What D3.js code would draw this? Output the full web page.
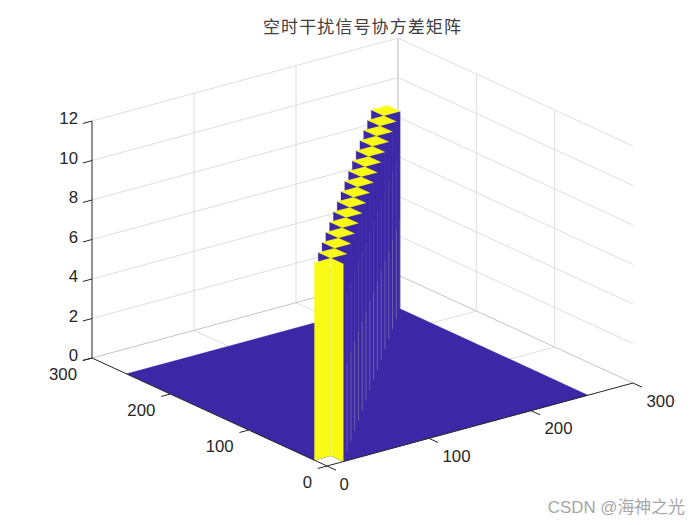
<!DOCTYPE html>
<html><head><meta charset="utf-8">
<script src="https://cdn.jsdelivr.net/npm/d3@7"></script>
<style>html,body{margin:0;padding:0;background:#fff}svg{display:block}</style>
</head><body><svg id="c" width="700" height="525"></svg>
<script>
const titleText = "空时干扰信号协方差矩阵";
const watermark = "CSDN @海神之光";
const xTicks = [0,100,200,300];
const yTicks = [0,100,200,300];
const zTicks = [0,2,4,6,8,10,12];
const blockEdges = [0,16,32,48,64,80,96,112,128,144,160,176,192,208,224,240];
const blockSize = [16];
const matrixSize = [256];
const blockHeights = [10,10,10,10,10,10,10,10,10,10,10,10,10,10,10,10];

const LOW = "#3c27a7", HIGH = "#f9fb15", AX = "#262626", GRID = "#dedede";

// oblique view: each data axis maps to a screen-x and a screen-y scale
const xPx = d3.scaleLinear().domain([0,300]).range([327,633]);
const xPy = d3.scaleLinear().domain([0,300]).range([466,383]);
const yPx = d3.scaleLinear().domain([0,300]).range([0,-235]);
const yPy = d3.scaleLinear().domain([0,300]).range([0,-108]);
const zPy = d3.scaleLinear().domain([0,12]).range([0,-237]);
const P = (x,y,z) => [xPx(x)+yPx(y), xPy(x)+yPy(y)+zPy(z)];

const svg = d3.select("#c");
const line = d3.line();
const poly = pts => line(pts)+"Z";
const seg = (g,a,b,col,w,op) => g.append("path").attr("d",line([P(...a),P(...b)]))
  .attr("stroke",col).attr("stroke-width",w).attr("fill","none").attr("opacity",op==null?1:op);

// grid + back box
const grid = svg.append("g");
xTicks.slice(1).forEach(t=>{
  const c = t===300 ? "#c4c4c4" : GRID;
  seg(grid,[t,0,0],[t,300,0],c,1);
  seg(grid,[t,300,0],[t,300,12],t===300?"#b0b0b0":GRID,1);
});
yTicks.slice(1).forEach(t=>{
  const c = t===300 ? "#c4c4c4" : GRID;
  seg(grid,[0,t,0],[300,t,0],c,1);
  seg(grid,[300,t,0],[300,t,12],GRID,1);
});
zTicks.slice(1).forEach(z=>{
  seg(grid,[0,300,z],[300,300,z],GRID,1);
  seg(grid,[300,300,z],[300,0,z],GRID,1);
});

// floor
const N = matrixSize[0], S = blockSize[0];
const marks = svg.append("g");
marks.append("path").attr("fill",LOW).attr("stroke",LOW).attr("stroke-width",0.3)
  .attr("d",poly([P(S,0,0),P(N,0,0),P(N,N,0),P(0,N,0),P(0,S,0),P(S,S,0)]));

// diagonal blocks, back to front
const order = d3.range(blockEdges.length).reverse();
order.forEach(k=>{
  const a = blockEdges[k], b = a+S, h = blockHeights[k];
  const g = marks.append("g");
  if(k>0){
    g.append("path").attr("fill",LOW).attr("stroke",LOW).attr("stroke-width",0.3)
      .attr("d",poly([P(a,a,0),P(a,b,0),P(a,b,h),P(a,a,h)]));
    g.append("path").attr("fill",LOW).attr("stroke",LOW).attr("stroke-width",0.3)
      .attr("d",poly([P(a,a,0),P(b,a,0),P(b,a,h),P(a,a,h)]));
    seg(g,[b,a,0],[b,a,h*0.45],"#a29eb0",0.7,0.7);
    seg(g,[b,a,h*0.45],[b,a,h*0.8],"#7d75c4",0.7,0.5);
    seg(g,[b,a,h*0.8],[b,a,h],"#5f54bc",0.7,0.35);
  } else {
    g.append("path").attr("fill",HIGH).attr("stroke",HIGH).attr("stroke-width",0.3)
      .attr("d",poly([P(a,b,0),P(b,b,0),P(b,b,h),P(a,b,h)]));
    g.append("path").attr("fill",HIGH).attr("stroke",HIGH).attr("stroke-width",0.3)
      .attr("d",poly([P(b,a,0),P(b,b,0),P(b,b,h),P(b,a,h)]));
  }
  g.append("path").attr("fill",HIGH).attr("stroke",HIGH).attr("stroke-width",0.2)
    .attr("d",poly([P(a,a,h),P(b,a,h),P(b,b,h),P(a,b,h)]));
  if(k===0) seg(g,[b,b,0],[b,b,h],"#fdfd9a",0.7,0.9);
});

// axes
const ax = svg.append("g");
seg(ax,[0,300,0],[0,0,0],AX,1);
seg(ax,[0,0,0],[300,0,0],AX,1);
seg(ax,[0,300,0],[0,300,12],AX,1);
const tickY = 11.5, tickX = 9; // tick lengths in data units
xTicks.forEach(t=>seg(ax,[t,0,0],[t,-tickY,0],AX,1));
yTicks.forEach(t=>seg(ax,[0,t,0],[-tickX,t,0],AX,1));
zTicks.forEach(z=>seg(ax,[0,300,z],[-tickX,300,z],AX,1));

// labels
const font = "'Liberation Sans',Arial,sans-serif";
const lab = (x,y,t,anchor) => svg.append("text").attr("x",x).attr("y",y).text(t)
  .attr("text-anchor",anchor).attr("dominant-baseline","central")
  .attr("font-family",font).attr("font-size",16.8).attr("fill",AX);
zTicks.forEach(z=>{ const p=P(0,300,z); lab(p[0]-14,p[1]-2.5,z,"end"); });
yTicks.forEach(t=>{ const p=P(0,t,0); lab(p[0]-15,p[1]+16,t,"end"); });
xTicks.forEach(t=>{ const p=P(t,0,0); lab(p[0]+(t===0?12.5:13.5),p[1]+18,t,"start"); });

svg.append("text").attr("x",362.5).attr("y",25).attr("text-anchor","middle")
  .attr("dominant-baseline","central").text(titleText)
  .attr("font-family","'Noto Sans CJK SC'").attr("font-weight",400).attr("font-size",17)
  .attr("letter-spacing",1.1).attr("fill","#404040");
svg.append("text").attr("x",685).attr("y",507).attr("text-anchor","end")
  .attr("dominant-baseline","central").text(watermark)
  .attr("font-family",font+",'Noto Sans CJK SC'").attr("font-size",16.9).attr("fill","#a6a6a6");
</script></body></html>
